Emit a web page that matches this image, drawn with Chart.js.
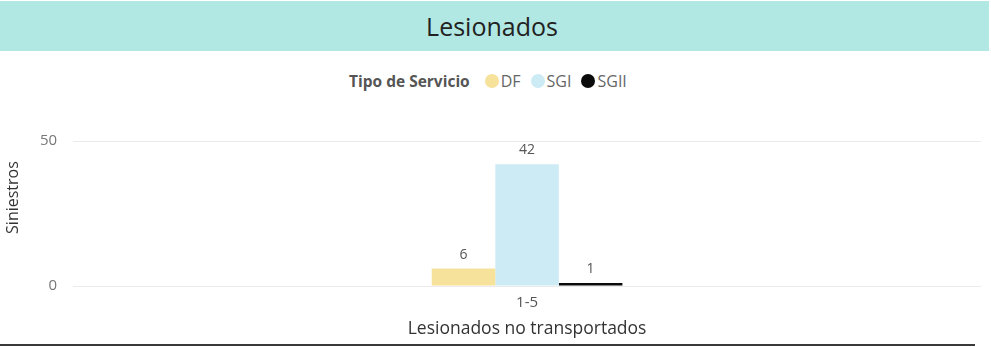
<!DOCTYPE html>
<html>
<head>
<meta charset="utf-8">
<script src="https://cdn.jsdelivr.net/npm/chart.js@4.4.1/dist/chart.umd.min.js"></script>
<style>
  html, body { margin: 0; padding: 0; background: #fff; }
  body { width: 991px; height: 347px; position: relative; overflow: hidden; font-family: "Open Sans", "Noto Sans", sans-serif; }
  #band { position: absolute; left: 0; top: 1px; width: 989px; height: 50px; background: #b2e8e3;
          display: flex; align-items: center; justify-content: center; font-size: 25px; color: #222; padding-right: 5px; box-sizing: border-box; }
  #legend { position: absolute; top: 71px; left: 349px; height: 20px; display: flex;
            align-items: center; font-size: 16px; color: #666; }
  #legend .ttl { font-weight: bold; font-size: 15.5px; color: #555; margin-right: 15px; }
  #legend .item { display: flex; align-items: center; margin-right: 10px; }
  #legend .dot { width: 14px; height: 14px; border-radius: 50%; margin-right: 2px; }
  #wrap { position: absolute; left: 0; top: 52px; width: 991px; height: 291px; }
  #rule { position: absolute; left: 0; top: 344px; width: 975px; height: 2px; background: #3a3a3a; }
</style>
</head>
<body>
<div id="band">Lesionados</div>
<div id="legend"></div>
<div id="wrap"><canvas id="c"></canvas></div>
<div id="rule"></div>
<script>
const categories = ["1-5"];
const seriesNames = ["DF", "SGI", "SGII"];
const dfValues = [6];
const sgiValues = [42];
const sgiiValues = [1];
const yTicks = [0, 50];
const seriesColors = ["#f6e29b", "#cdebf5", "#0b0b0b"];
const yTitle = "Siniestros";

// HTML legend with the service-type heading
const legend = document.getElementById("legend");
const head = document.createElement("span");
head.className = "ttl";
head.textContent = "Tipo de Servicio";
legend.appendChild(head);
seriesNames.forEach((n, i) => {
  const it = document.createElement("span");
  it.className = "item";
  const d = document.createElement("span");
  d.className = "dot";
  d.style.background = seriesColors[i];
  const t = document.createElement("span");
  t.textContent = n;
  it.appendChild(d); it.appendChild(t);
  legend.appendChild(it);
});

// value labels above each bar, plus the rotated y-axis title
const annotations = {
  id: "annotations",
  afterDatasetsDraw(chart) {
    const ctx = chart.ctx;
    ctx.save();
    ctx.fillStyle = "#555";
    ctx.font = '14px "Open Sans", sans-serif';
    ctx.textAlign = "center";
    ctx.textBaseline = "bottom";
    chart.data.datasets.forEach((ds, i) => {
      chart.getDatasetMeta(i).data.forEach((bar, j) => {
        ctx.fillText(String(ds.data[j]), bar.x, bar.y - 7);
      });
    });
    ctx.restore();

    const area = chart.chartArea;
    ctx.save();
    ctx.translate(13, area.top + (area.bottom - area.top) * 0.39);
    ctx.rotate(-Math.PI / 2);
    ctx.fillStyle = "#333";
    ctx.font = '16px "Open Sans", sans-serif';
    ctx.textAlign = "center";
    ctx.textBaseline = "middle";
    ctx.fillText(yTitle, 0, 0);
    ctx.restore();
  }
};

const datasets = [dfValues, sgiValues, sgiiValues].map((vals, i) => ({
  label: seriesNames[i],
  data: vals,
  backgroundColor: seriesColors[i],
  borderWidth: 0,
  barPercentage: 1.0,
  categoryPercentage: 0.21
}));

new Chart(document.getElementById("c"), {
  type: "bar",
  data: { labels: categories, datasets },
  options: {
    responsive: true,
    maintainAspectRatio: false,
    animation: false,
    layout: { padding: { top: 89, right: 10, left: 24, bottom: 0 } },
    plugins: { legend: { display: false }, tooltip: { enabled: false } },
    scales: {
      x: {
        grid: { display: false },
        border: { display: false },
        ticks: { color: "#555", font: { family: "Open Sans", size: 15 }, padding: 0 },
        title: { display: true, text: "Lesionados no transportados", color: "#333",
                 font: { family: "Open Sans", size: 17.5 }, padding: { top: 7, bottom: 3 } }
      },
      y: {
        min: yTicks[0],
        max: yTicks[yTicks.length - 1],
        afterBuildTicks(axis) { axis.ticks = yTicks.map(v => ({ value: v })); },
        grid: { color: "#ebebeb", drawTicks: false },
        border: { display: false },
        ticks: { color: "#777", font: { family: "Open Sans", size: 15 }, padding: 16 }
      }
    }
  },
  plugins: [annotations]
});
</script>
</body>
</html>
